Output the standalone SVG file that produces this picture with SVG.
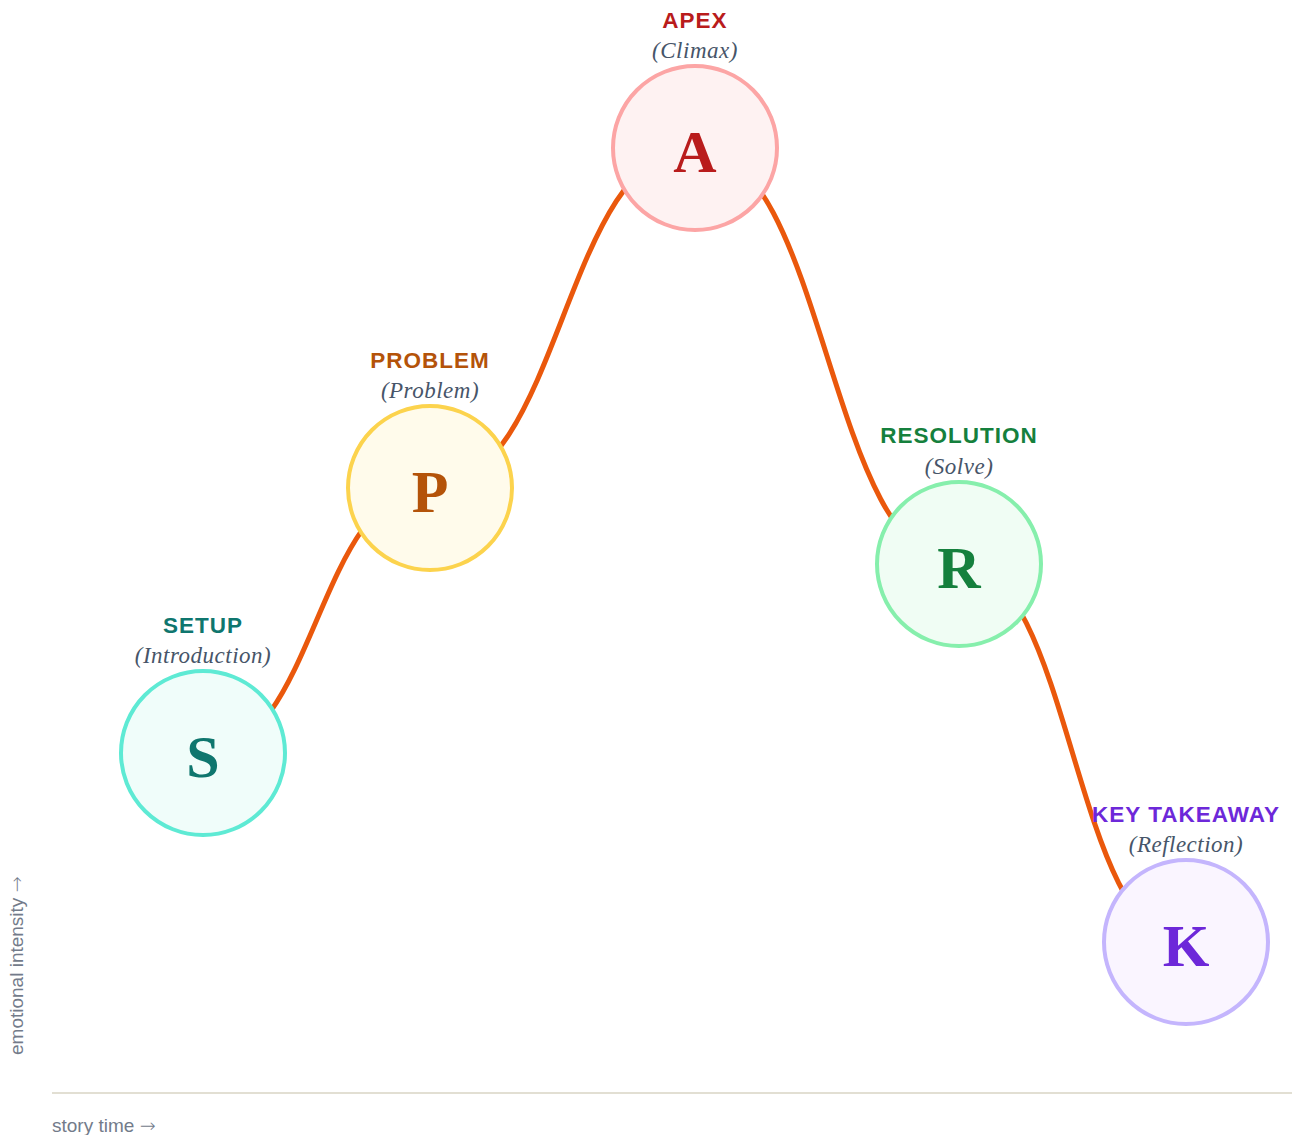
<svg xmlns="http://www.w3.org/2000/svg" width="1292" height="1135" viewBox="0 0 1292 1135">
  <style>
    .arc { fill: none; stroke: #ea580c; stroke-width: 5; stroke-linecap: round; }
    .ring { stroke-width: 4; }
    .title { font-family: "Liberation Sans", Arial, sans-serif; font-weight: bold; font-size: 22.5px; letter-spacing: 1px; text-anchor: middle; }
    .sub { font-family: "Liberation Serif", "Times New Roman", serif; font-style: italic; font-size: 23px; letter-spacing: 0.5px; fill: #475569; text-anchor: middle; }
    .letter { font-family: "Liberation Serif", "Times New Roman", serif; font-weight: bold; font-size: 60px; text-anchor: middle; }
    .axis-label { font-family: "Liberation Sans", Arial, sans-serif; font-size: 19px; fill: #737b8a; }
    .arrow { font-family: "DejaVu Sans", sans-serif; font-weight: 300; }
  </style>
  <rect width="1292" height="1135" fill="#ffffff"/>

  <!-- axes -->
  <g id="axes">
    <line x1="52" y1="1093" x2="1292" y2="1093" stroke="#d9d5c5" stroke-width="1.5"/>
    <text class="axis-label" x="52" y="1132">story time <tspan class="arrow">→</tspan></text>
    <text class="axis-label" transform="translate(23,1055) rotate(-90)">emotional intensity <tspan class="arrow">→</tspan></text>
  </g>

  <!-- story arc through the five beats -->
  <g id="connectors">
    <path class="arc" d="M203 753 C316.5 753 316.5 488 430 488"/>
    <path class="arc" d="M430 488 C562.5 488 562.5 148 695 148"/>
    <path class="arc" d="M695 148 C827 148 827 564 959 564"/>
    <path class="arc" d="M959 564 C1072.5 564 1072.5 942 1186 942"/>
  </g>

  <g id="node-setup">
    <text class="title" x="203" y="633" fill="#0f766e">SETUP</text>
    <text class="sub" x="203" y="663">(Introduction)</text>
    <circle class="ring" cx="203" cy="753" r="82" fill="#f0fdfa" stroke="#5eead4"/>
    <text class="letter" x="203" y="777" fill="#0f766e">S</text>
  </g>

  <g id="node-problem">
    <text class="title" x="430" y="368" fill="#b45309">PROBLEM</text>
    <text class="sub" x="430" y="398">(Problem)</text>
    <circle class="ring" cx="430" cy="488" r="82" fill="#fffbeb" stroke="#fcd34d"/>
    <text class="letter" x="430" y="512" fill="#b45309">P</text>
  </g>

  <g id="node-apex">
    <text class="title" x="695" y="28" fill="#b91c1c">APEX</text>
    <text class="sub" x="695" y="58">(Climax)</text>
    <circle class="ring" cx="695" cy="148" r="82" fill="#fef2f2" stroke="#fca5a5"/>
    <text class="letter" x="695" y="172" fill="#b91c1c">A</text>
  </g>

  <g id="node-resolution">
    <text class="title" x="959" y="443" fill="#15803d">RESOLUTION</text>
    <text class="sub" x="959" y="474">(Solve)</text>
    <circle class="ring" cx="959" cy="564" r="82" fill="#f0fdf4" stroke="#86efac"/>
    <text class="letter" x="959" y="588" fill="#15803d">R</text>
  </g>

  <g id="node-takeaway">
    <text class="title" x="1186" y="822" fill="#6d28d9">KEY TAKEAWAY</text>
    <text class="sub" x="1186" y="852">(Reflection)</text>
    <circle class="ring" cx="1186" cy="942" r="82" fill="#faf5ff" stroke="#c4b5fd"/>
    <text class="letter" x="1186" y="966" fill="#6d28d9">K</text>
  </g>
</svg>
